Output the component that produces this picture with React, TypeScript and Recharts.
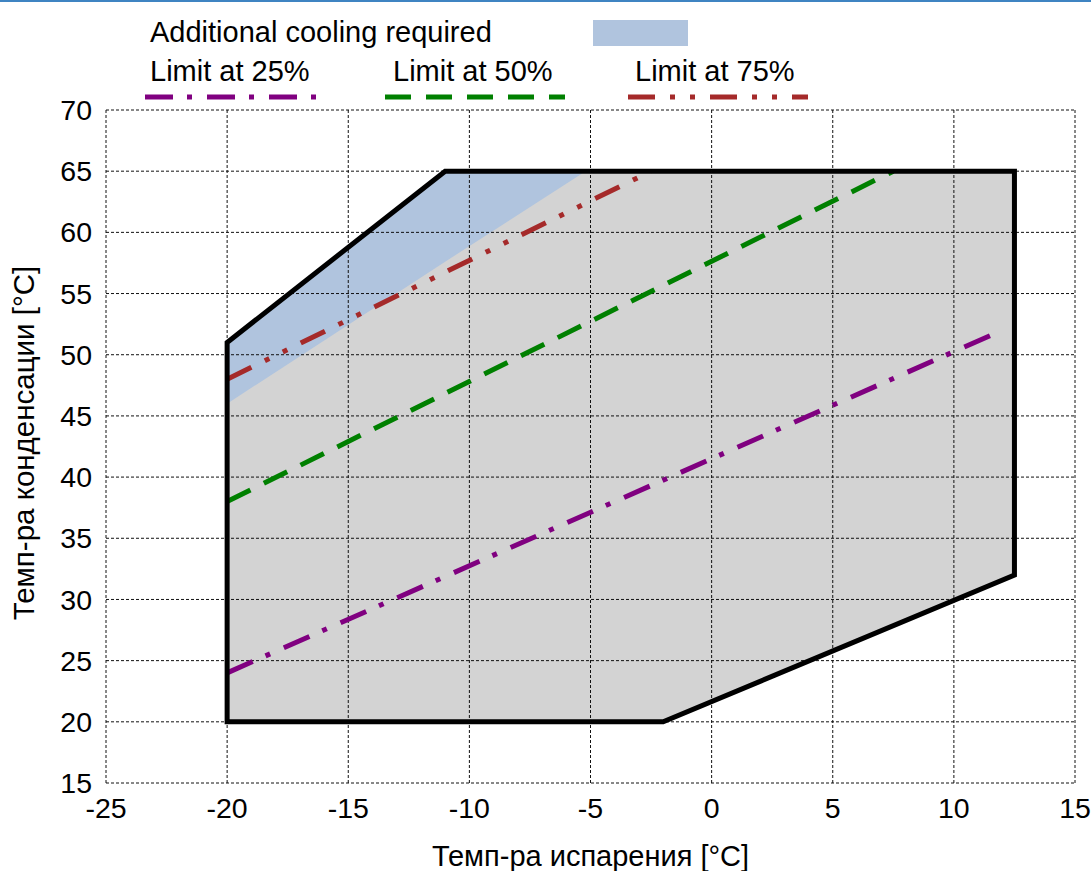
import { ComposedChart, Area, Line, XAxis, YAxis, CartesianGrid } from 'recharts';

const xTicks = [-25, -20, -15, -10, -5, 0, 5, 10, 15];
const yTicks = [15, 20, 25, 30, 35, 40, 45, 50, 55, 60, 65, 70];

// envelope outline, closed polygon
const envelopeX = [-20, -2, 12.5, 12.5, -11, -20, -20];
const envelopeY = [20, 20, 32, 65, 65, 51, 20];

// envelope fill (lower / upper edge)
const fillX = [-20, -11, -2, 12.5];
const fillLow = [20, 20, 20, 32];
const fillHigh = [51, 65, 65, 65];

// "additional cooling required" region
const coolX = [-20, -11, -5.2];
const coolLow = [46, 57.6, 65];
const coolHigh = [51, 65, 65];

const limit25X = [-20, 12];
const limit25Y = [24, 52];
const limit50X = [-20, 7.5];
const limit50Y = [38, 65];
const limit75X = [-20, -2.5];
const limit75Y = [48, 65];

const limitNames = ['Limit at 25%', 'Limit at 50%', 'Limit at 75%'];
const coolName = 'Additional cooling required';

const FONT = '"Liberation Sans", Arial, sans-serif';

const points = (xs: number[], ys: number[]) => xs.map((x, i) => ({ x, y: ys[i] }));
const range = (xs: number[], lo: number[], hi: number[]) =>
  xs.map((x, i) => ({ x, lo: lo[i], hi: hi[i] }));

const limits = [
  { name: limitNames[0], data: points(limit25X, limit25Y), color: '#800080', dash: '28 14 5 15' },
  { name: limitNames[1], data: points(limit50X, limit50Y), color: '#008000', dash: '26 15' },
  { name: limitNames[2], data: points(limit75X, limit75Y), color: '#a52a2a', dash: '27 15 5 15 5 15' },
];

const legendPos = [
  { tx: 150, lx: 145 },
  { tx: 393, lx: 385 },
  { tx: 635, lx: 628 },
];

function TopLegend() {
  return (
    <svg
      width={1091}
      height={110}
      style={{ position: 'absolute', left: 0, top: 0, pointerEvents: 'none' }}
    >
      <rect x={0} y={0} width={1091} height={2} fill="#3f84c2" />
      <text x={150} y={42} fontSize={29} fontFamily={FONT} fill="#000">
        {coolName}
      </text>
      <rect x={593} y={20} width={95} height={26} fill="#b0c4de" />
      {limits.map((l, i) => (
        <g key={l.name}>
          <text x={legendPos[i].tx} y={81} fontSize={29} fontFamily={FONT} fill="#000">
            {l.name}
          </text>
          <line
            x1={legendPos[i].lx}
            x2={legendPos[i].lx + 180}
            y1={97}
            y2={97}
            stroke={l.color}
            strokeWidth={5}
            strokeDasharray={l.dash}
          />
        </g>
      ))}
    </svg>
  );
}

export default function App() {
  return (
    <div
      style={{
        position: 'absolute',
        left: 0,
        top: 0,
        width: 1091,
        height: 871,
        background: '#fff',
        fontFamily: FONT,
      }}
    >
      <ComposedChart
        width={1091}
        height={871}
        margin={{ top: 110, right: 16, bottom: 0, left: 0 }}
      >
        <XAxis
          type="number"
          dataKey="x"
          domain={[-25, 15]}
          ticks={xTicks}
          allowDataOverflow
          axisLine={false}
          tickLine={false}
          tickSize={0}
          tickMargin={15}
          height={88}
          tick={{ fontSize: 28.5, fill: '#000', fontFamily: FONT }}
          label={{
            content: (p: any) => (
              <text
                x={p.viewBox.x + p.viewBox.width / 2}
                y={866}
                textAnchor="middle"
                fontSize={29}
                fontFamily={FONT}
                fill="#000"
              >
                Темп-ра испарения [°C]
              </text>
            ),
          }}
        />
        <YAxis
          type="number"
          domain={[15, 70]}
          ticks={yTicks}
          allowDataOverflow
          axisLine={false}
          tickLine={false}
          tickSize={0}
          tickMargin={14}
          width={106}
          tick={{ fontSize: 28.5, fill: '#000', fontFamily: FONT }}
          label={{
            content: () => (
              <text
                x={34}
                y={443}
                transform="rotate(-90 34 443)"
                textAnchor="middle"
                fontSize={29.5}
                fontFamily={FONT}
                fill="#000"
              >
                Темп-ра конденсации [°C]
              </text>
            ),
          }}
        />
        <Area
          data={range(fillX, fillLow, fillHigh)}
          dataKey={(d: any) => [d.lo, d.hi]}
          type="linear"
          fill="#d3d3d3"
          fillOpacity={1}
          stroke="none"
          isAnimationActive={false}
        />
        <Area
          data={range(coolX, coolLow, coolHigh)}
          dataKey={(d: any) => [d.lo, d.hi]}
          type="linear"
          fill="#b0c4de"
          fillOpacity={1}
          stroke="none"
          isAnimationActive={false}
        />
        <CartesianGrid
          stroke="#111"
          strokeDasharray="3 2"
          horizontalValues={yTicks}
          verticalValues={xTicks}
          zIndex={150}
        />
        {limits.map((l) => (
          <Line
            key={l.name}
            data={l.data}
            dataKey="y"
            type="linear"
            stroke={l.color}
            strokeWidth={5}
            strokeDasharray={l.dash}
            dot={false}
            activeDot={false}
            isAnimationActive={false}
          />
        ))}
        <Line
          data={points(envelopeX, envelopeY)}
          dataKey="y"
          type="linear"
          stroke="#000"
          strokeWidth={5}
          strokeLinecap="square"
          strokeLinejoin="miter"
          dot={false}
          activeDot={false}
          isAnimationActive={false}
        />
      </ComposedChart>
      <TopLegend />
    </div>
  );
}
